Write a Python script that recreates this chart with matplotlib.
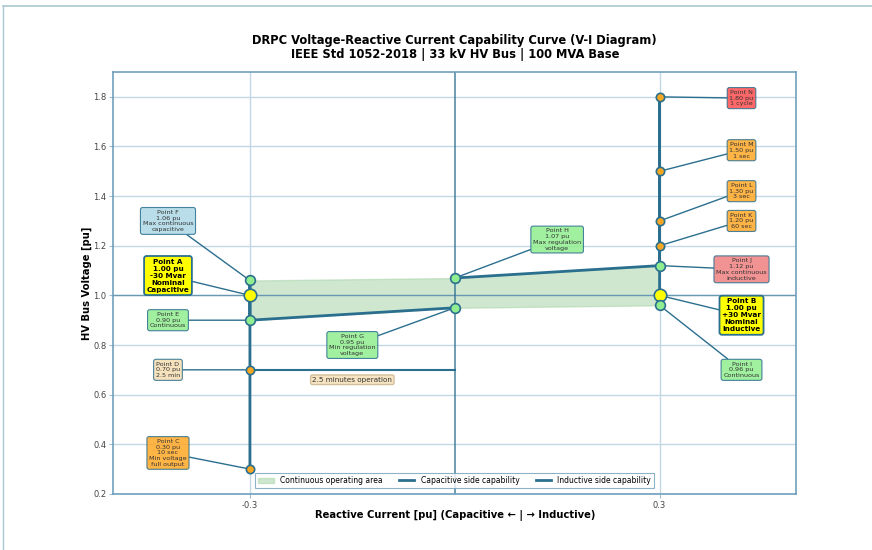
import matplotlib.pyplot as plt
from matplotlib.lines import Line2D

plt.rcParams['axes.unicode_minus'] = False

# Points de la courbe V-I (courant reactif pu, tension pu)
noms = ["A", "B", "C", "D", "E", "F", "G", "H", "I", "J", "K", "L", "M", "N"]
iq = [-0.3, 0.3, -0.3, -0.3, -0.3, -0.3, 0.0, 0.0, 0.3, 0.3, 0.3, 0.3, 0.3, 0.3]
v = [1.00, 1.00, 0.30, 0.70, 0.90, 1.06, 0.95, 1.07, 0.96, 1.12, 1.20, 1.30, 1.50, 1.80]
textes = [
    "Point A\n1.00 pu\n-30 Mvar\nNominal\nCapacitive",
    "Point B\n1.00 pu\n+30 Mvar\nNominal\nInductive",
    "Point C\n0.30 pu\n10 sec\nMin voltage\nfull output",
    "Point D\n0.70 pu\n2.5 min",
    "Point E\n0.90 pu\nContinuous",
    "Point F\n1.06 pu\nMax continuous\ncapacitive",
    "Point G\n0.95 pu\nMin regulation\nvoltage",
    "Point H\n1.07 pu\nMax regulation\nvoltage",
    "Point I\n0.96 pu\nContinuous",
    "Point J\n1.12 pu\nMax continuous\ninductive",
    "Point K\n1.20 pu\n60 sec",
    "Point L\n1.30 pu\n3 sec",
    "Point M\n1.50 pu\n1 sec",
    "Point N\n1.80 pu\n1 cycle",
]
# position des etiquettes
pos_txt = [(-0.42, 1.08), (0.42, 0.92), (-0.42, 0.365), (-0.42, 0.70), (-0.42, 0.90),
           (-0.42, 1.30), (-0.15, 0.80), (0.15, 1.225), (0.42, 0.70), (0.42, 1.105),
           (0.42, 1.30), (0.42, 1.42), (0.42, 1.585), (0.42, 1.795)]
fonds = ["#ffff00", "#ffff00", "#ffa726", "#f5deb3", "#90ee90", "#add8e6", "#90ee90",
         "#90ee90", "#90ee90", "#f08080", "#ffa726", "#ffa726", "#ffa726", "#ff4d4d"]
# couleur des marqueurs
couleurs_pt = ["#ffff00", "#ffff00", "#f5a623", "#f5a623", "#90ee90", "#90ee90", "#90ee90",
               "#90ee90", "#90ee90", "#90ee90", "#f5a623", "#f5a623", "#f5a623", "#f5a623"]

# zone de fonctionnement continu
zone_x = [-0.3, 0.0, 0.3]
zone_bas = [0.90, 0.95, 0.96]
zone_haut = [1.06, 1.07, 1.12]

# cotes capacitif et inductif
cap_x = [-0.3, -0.3, -0.3, 0.0]
cap_v = [0.30, 1.06, 0.90, 0.95]
ind_x = [0.0, 0.3, 0.3, 0.3]
ind_v = [1.07, 1.12, 1.80, 0.96]

bleu = "#2b6f8f"

fig, ax = plt.subplots(figsize=(8.72, 5.5), dpi=100)
fig.subplots_adjust(left=0.13, right=0.913, top=0.869, bottom=0.102)

ax.fill_between(zone_x, zone_bas, zone_haut, color="#a9d4a9", alpha=0.55,
                label="Continuous operating area", zorder=1)
ax.plot(cap_x, cap_v, color=bleu, lw=2.0, label="Capacitive side capability", zorder=3)
ax.plot(ind_x, ind_v, color=bleu, lw=2.0, label="Inductive side capability", zorder=3)
ax.axvline(0, color=bleu, lw=1.2, alpha=0.8, zorder=2)
ax.axhline(1.0, color=bleu, lw=1.0, alpha=0.6, zorder=2)
ax.plot([-0.3, 0.0], [0.70, 0.70], color=bleu, lw=1.5, zorder=2)
ax.text(-0.15, 0.66, "2.5 minutes operation", ha="center", va="center", fontsize=5.2,
        color="#333333",
        bbox=dict(boxstyle="round,pad=0.25", fc="#f5deb3", ec="#c8b48a", alpha=0.8))

for i in range(len(noms)):
    gros = noms[i] in ("A", "B")
    if gros:
        ms = 9
    elif couleurs_pt[i] == "#90ee90":
        ms = 7
    else:
        ms = 6
    ax.plot(iq[i], v[i], "o", ms=ms, mfc=couleurs_pt[i], mec=bleu, mew=1.2, zorder=5)
    ax.annotate(textes[i], xy=(iq[i], v[i]), xytext=pos_txt[i], ha="center", va="center",
                fontsize=5.2 if gros else 4.6, fontweight="bold" if gros else "normal",
                color="black" if gros else "#333333",
                bbox=dict(boxstyle="round,pad=0.35", fc=fonds[i], ec=bleu,
                          lw=1.3 if gros else 0.8, alpha=1.0 if gros else 0.85),
                arrowprops=dict(arrowstyle="-", color=bleu, lw=1.0, shrinkA=0, shrinkB=2),
                zorder=4)

ax.set_xlim(-0.5, 0.5)
ax.set_ylim(0.2, 1.9)
ax.set_xticks([-0.3, 0.3])
ax.set_yticks([0.2, 0.4, 0.6, 0.8, 1.0, 1.2, 1.4, 1.6, 1.8])
ax.tick_params(labelsize=6, length=3, pad=2, colors="#9fbccf", labelcolor="#444444")
ax.grid(True, color="#c3d8e5", lw=1.0)
for s in ax.spines.values():
    s.set_color("#6f9fbd")
    s.set_linewidth(1.2)

ax.set_xlabel("Reactive Current [pu] (Capacitive ← | → Inductive)", fontsize=7.2,
              fontweight="bold", labelpad=0)
ax.set_ylabel("HV Bus Voltage [pu]", fontsize=7.2, fontweight="bold", labelpad=0.5)
ax.set_title("DRPC Voltage-Reactive Current Capability Curve (V-I Diagram)\n"
             "IEEE Std 1052-2018 | 33 kV HV Bus | 100 MVA Base",
             fontsize=8.3, fontweight="bold", pad=10, linespacing=1.1)

leg = ax.legend(loc="lower center", ncol=3, fontsize=5.5, frameon=True, fancybox=False,
                borderpad=0.4, handlelength=2.0, columnspacing=2.2,
                bbox_to_anchor=(0.5, 0.005))
leg.get_frame().set_edgecolor("#6f9fbd")
leg.get_frame().set_linewidth(0.8)

# bord de la figure
fig.add_artist(Line2D([0.003, 1.0], [0.989, 0.989], color="#a9c8d2", lw=1.2))
fig.add_artist(Line2D([0.003, 0.003], [0.0, 0.989], color="#a9c8d2", lw=1.0))

plt.savefig("out.png", dpi=100)
